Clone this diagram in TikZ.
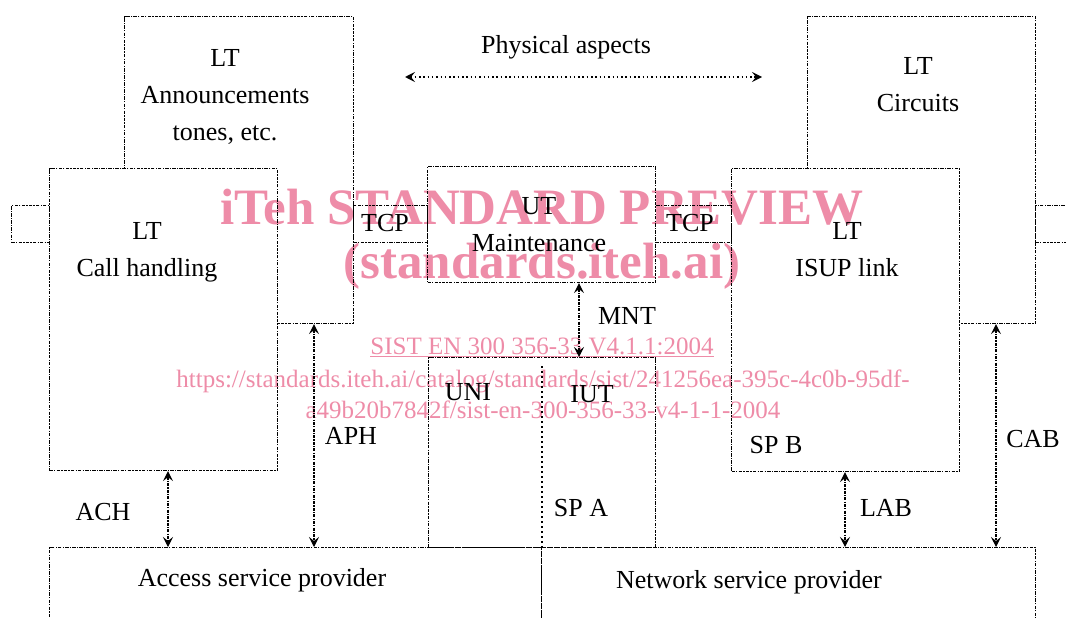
\documentclass[tikz,border=0pt]{standalone}
\usepackage{fontspec}
\setmainfont{Liberation Serif}
\usetikzlibrary{arrows.meta}
\definecolor{rose}{RGB}{238,140,168}
\begin{document}
\begin{tikzpicture}[x=1pt,y=-1pt]
		% Styles (MODIFIABLES)
		\tikzstyle{boite}=[draw,fill=white,line width=1.1pt,dash pattern=on 3.5pt off 1.2pt on 1.2pt off 1.2pt,anchor=north west,inner sep=0pt]
		\tikzstyle{lien}=[<->,>={Stealth[length=10pt,width=10pt,inset=4pt]},line width=1.1pt,dash pattern=on 3pt off 1.2pt on 1.2pt off 1.2pt]
		\tikzstyle{lienPointille}=[<->,>={Stealth[length=10pt,width=10pt,inset=4pt]},line width=1.5pt,dash pattern=on 1.5pt off 2.8pt]
		\tikzstyle{separation}=[line width=1.8pt,dash pattern=on 1.8pt off 3.2pt]
		\tikzstyle{etiquette}=[font=\fontsize{26}{37}\selectfont,align=center,inner sep=0pt]
		\tikzstyle{mot}=[font=\fontsize{26}{37}\selectfont,anchor=base,inner sep=0pt]
		\tikzstyle{filigrane}=[text=rose,inner sep=0pt]
		% Cadre
		\clip (0,0) rectangle (1066,618);
		% Boites (MODIFIABLES)
		\node[boite,minimum width=229pt,minimum height=307pt] (ann) at (124,16) {};
		\node[boite,minimum width=228pt,minimum height=307pt] (cir) at (807,16) {};
		\node[boite,minimum width=38pt,minimum height=37pt] (stubG) at (11,205) {};
		\node[boite,minimum width=60pt,minimum height=37pt] (stubD) at (1035,205) {};
		\node[boite,minimum width=74pt,minimum height=37pt] (tcpG) at (353,205) {};
		\node[boite,minimum width=76pt,minimum height=37pt] (tcpD) at (655,205) {};
		\node[boite,minimum width=228pt,minimum height=116pt] (mnt) at (427,166) {};
		\node[boite,minimum width=228pt,minimum height=302pt] (ch) at (49,168) {};
		\node[boite,minimum width=228pt,minimum height=303pt] (isup) at (731,168) {};
		\node[boite,minimum width=227pt,minimum height=190pt] (spa) at (428,357) {};
		\node[boite,minimum width=492pt,minimum height=100pt] (asp) at (49,547) {};
		\node[boite,minimum width=494pt,minimum height=100pt] (nsp) at (541,547) {};
		% Textes des boites
		\node[etiquette] (tAnn) at (225,97) {LT\\Announcements\\tones, etc.};
		\node[etiquette] (tCir) at (918,85) {LT\\Circuits};
		\node[etiquette] (tCh) at (147,252) {LT\\Call handling};
		\node[etiquette] (tIsup) at (847,250) {LT\\ISUP link};
		\node[etiquette] (tMnt) at (539,225) {UT\\Maintenance};
		\node[mot] (tTcpG) at (385,231) {TCP};
		\node[mot] (tTcpD) at (690,231) {TCP};
		\node[mot] (tUni) at (468,400) {UNI};
		\node[mot] (tIut) at (592,402) {IUT};
		\node[mot] (tSpa) at (581,516) {SP A};
		\node[mot] (tSpb) at (776,453) {SP B};
		\node[mot] (tAsp) at (262,586) {Access service provider};
		\node[mot] (tNsp) at (749,588) {Network service provider};
		% Arcs (MODIFIABLES)
		\coordinate (pa1) at (405,77);
		\coordinate (pa2) at (762,77);
		\coordinate (xAch) at (168,0);
		\coordinate (xAph) at (314,0);
		\coordinate (xMnt) at (579,0);
		\coordinate (xLab) at (845,0);
		\coordinate (xCab) at (996,0);
		\draw[lienPointille] (pa1) -- (pa2);
		\draw[lien] (xAch |- ch.south) -- (xAch |- asp.north);
		\draw[lien] (xAph |- ann.south) -- (xAph |- asp.north);
		\draw[lien] (xMnt |- mnt.south) -- (xMnt |- spa.north);
		\draw[lien] (xLab |- isup.south) -- (xLab |- nsp.north);
		\draw[lien] (xCab |- cir.south) -- (xCab |- nsp.north);
		\draw[separation] ([yshift=-9pt]spa.north) -- (spa.south);
		% Etiquettes des arcs
		\node[mot] (lPa) at (566,54) {Physical aspects};
		\node[mot] (lAch) at (103,520) {ACH};
		\node[mot] (lAph) at (351,444) {APH};
		\node[mot] (lMnt) at (627,324) {MNT};
		\node[mot] (lLab) at (886,516) {LAB};
		\node[mot] (lCab) at (1033,447) {CAB};
		% Filigrane
		\begin{scope}[blend mode=multiply]
		\node[filigrane,font=\bfseries\fontsize{51}{51}\selectfont] (f1) at (542,207) {iTeh STANDARD PREVIEW};
		\node[filigrane,font=\bfseries\fontsize{51}{51}\selectfont] (f2) at (542,266) {(standards.iteh.ai)};
		\node[filigrane,font=\fontsize{25}{25}\selectfont] (f3) at (542,347) {\underline{SIST EN 300 356-33 V4.1.1:2004}};
		\node[filigrane,font=\fontsize{25}{25}\selectfont] (f4) at (543,381) {https://standards.iteh.ai/catalog/standards/sist/241256ea-395c-4c0b-95df-};
		\node[filigrane,font=\fontsize{25}{25}\selectfont] (f5) at (543,410) {a49b20b7842f/sist-en-300-356-33-v4-1-1-2004};
		\end{scope}
\end{tikzpicture}
\end{document}
